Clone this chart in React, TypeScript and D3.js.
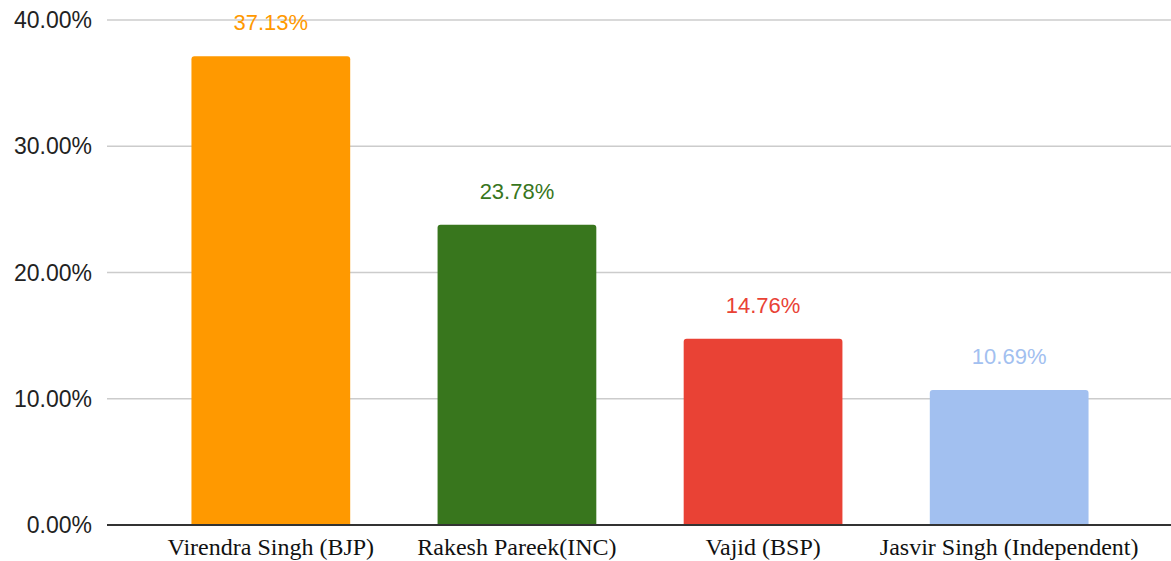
import React, { useEffect, useRef } from "react";
import * as d3 from "d3";

const candidates = [
  "Virendra Singh (BJP)",
  "Rakesh Pareek(INC)",
  "Vajid (BSP)",
  "Jasvir Singh (Independent)",
];
const voteShare = [37.13, 23.78, 14.76, 10.69];
const barColors = ["#ff9900", "#38761d", "#e94235", "#a2c0f0"];
const yTicks = [0, 10, 20, 30, 40];

const W = 1171;
const H = 561;

const App: React.FC = () => {
  const ref = useRef<SVGSVGElement | null>(null);

  useEffect(() => {
    if (!ref.current) return;
    const svg = d3.select(ref.current);
    svg.selectAll("*").remove();

    const margin = { top: 20, right: 0, bottom: 36, left: 107 };

    const x = d3
      .scaleBand()
      .domain(candidates)
      .range([margin.left + 2, W - margin.right])
      .paddingInner(0.355)
      .paddingOuter(0.335);

    const y = d3
      .scaleLinear()
      .domain([0, 40])
      .range([H - margin.bottom, margin.top]);

    // grid lines
    svg
      .append("g")
      .selectAll("line")
      .data(yTicks.filter((t) => t > 0))
      .join("line")
      .attr("x1", margin.left)
      .attr("x2", W - margin.right)
      .attr("y1", (d) => y(d))
      .attr("y2", (d) => y(d))
      .attr("stroke", "#cccccc")
      .attr("stroke-width", 1.5);

    // y tick labels
    svg
      .append("g")
      .selectAll("text")
      .data(yTicks)
      .join("text")
      .attr("x", 92)
      .attr("y", (d) => y(d) + 8)
      .attr("text-anchor", "end")
      .attr("font-family", "'Liberation Sans', Arial, sans-serif")
      .attr("font-size", 23)
      .attr("fill", "#222")
      .text((d) => d.toFixed(2) + "%");

    // bars with rounded top corners
    const r = 3;
    svg
      .append("g")
      .selectAll("path")
      .data(voteShare)
      .join("path")
      .attr("d", (d, i) => {
        const x0 = x(candidates[i])!;
        const x1 = x0 + x.bandwidth();
        const yt = y(d);
        const yb = y(0);
        return `M${x0},${yb}V${yt + r}Q${x0},${yt} ${x0 + r},${yt}H${x1 - r}Q${x1},${yt} ${x1},${yt + r}V${yb}Z`;
      })
      .attr("fill", (_, i) => barColors[i]);

    // value labels
    svg
      .append("g")
      .selectAll("text")
      .data(voteShare)
      .join("text")
      .attr("x", (_, i) => x(candidates[i])! + x.bandwidth() / 2)
      .attr("y", (d) => y(d) - 26)
      .attr("text-anchor", "middle")
      .attr("font-family", "'Liberation Sans', Arial, sans-serif")
      .attr("font-size", 22)
      .attr("fill", (_, i) => barColors[i])
      .text((d) => d.toFixed(2) + "%");

    // baseline
    svg
      .append("line")
      .attr("x1", margin.left)
      .attr("x2", W - margin.right)
      .attr("y1", y(0))
      .attr("y2", y(0))
      .attr("stroke", "#333")
      .attr("stroke-width", 2);

    // x labels
    svg
      .append("g")
      .selectAll("text")
      .data(candidates)
      .join("text")
      .attr("x", (d) => x(d)! + x.bandwidth() / 2)
      .attr("y", H - 6)
      .attr("text-anchor", "middle")
      .attr("font-family", "'Liberation Serif', 'Times New Roman', serif")
      .attr("font-size", 24)
      .attr("fill", "#111")
      .text((d) => d);
  }, []);

  return (
    <svg
      ref={ref}
      width={W}
      height={H}
      style={{ position: "absolute", left: 0, top: 0, background: "#fff" }}
    />
  );
};

export default App;
